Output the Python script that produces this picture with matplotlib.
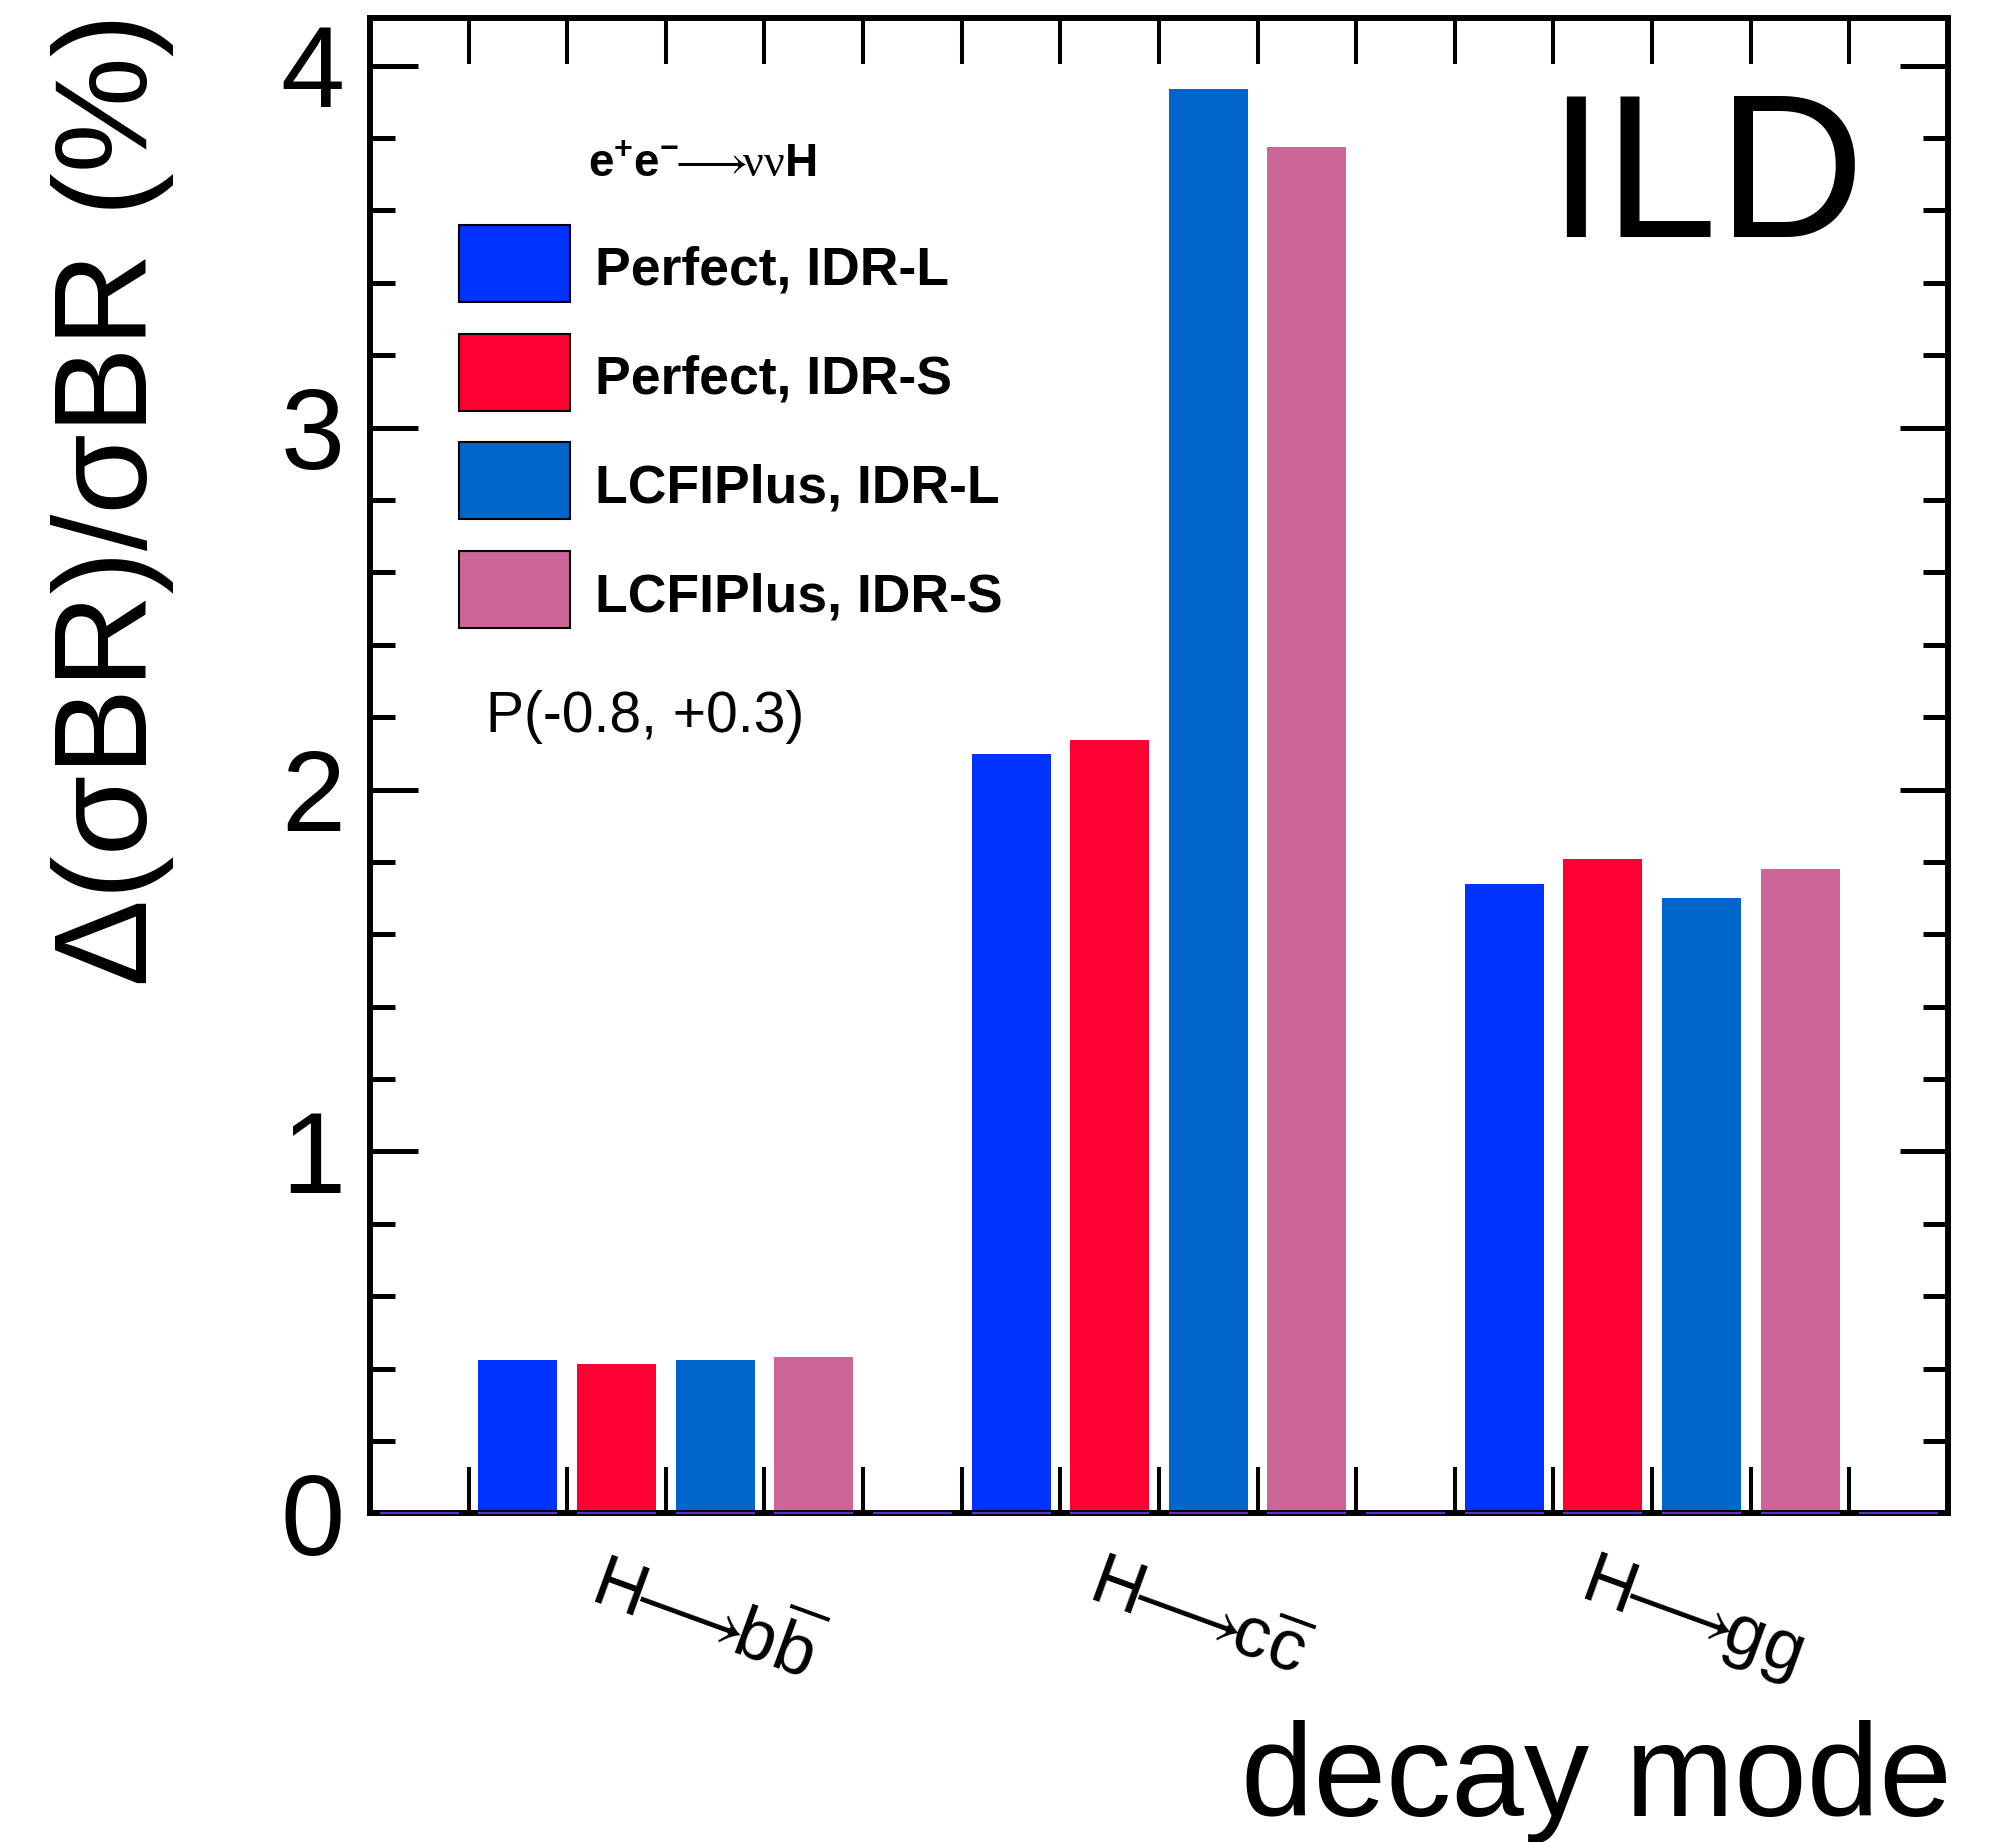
import numpy as np
import matplotlib.pyplot as plt
from matplotlib.patches import Rectangle
from matplotlib.ticker import MultipleLocator, NullFormatter

plt.rcParams['font.family'] = ['Liberation Sans', 'DejaVu Sans']
plt.rcParams['mathtext.fontset'] = 'custom'
plt.rcParams['mathtext.rm'] = 'Liberation Sans'
plt.rcParams['mathtext.bf'] = 'Liberation Sans:bold'
plt.rcParams['mathtext.it'] = 'Liberation Serif'

# decay modes (x categories)
modes = [r'$\mathrm{H}\!\!\longrightarrow\!\!\mathrm{b}\overline{\mathrm{b}}$',
         r'$\mathrm{H}\!\!\longrightarrow\!\!\mathrm{c}\overline{\mathrm{c}}$',
         r'$\mathrm{H}\!\!\longrightarrow\!\!\mathrm{gg}$']

# series
series = ['Perfect, IDR-L', 'Perfect, IDR-S', 'LCFIPlus, IDR-L', 'LCFIPlus, IDR-S']
colors = ['#0033ff', '#ff0033', '#0066cc', '#cc6699']

perfect_L = [0.423, 2.099, 1.739]
perfect_S = [0.412, 2.138, 1.809]
lcfi_L = [0.423, 3.935, 1.699]
lcfi_S = [0.432, 3.775, 1.779]
values = [perfect_L, perfect_S, lcfi_L, lcfi_S]

nbins = 16          # 4 bars per mode + 1 empty bin in between
group = 5

fig = plt.figure(figsize=(20.03, 18.42), dpi=100)
ax = fig.add_axes([0.18472, 0.17844, 0.78782, 0.81178])

for s, vals in enumerate(values):
    bins = 1 + group*np.arange(len(modes)) + s
    ax.bar(bins + 0.1, vals, width=0.8, align='edge', color=colors[s], linewidth=0, zorder=2)

# empty bins drawn as a thin line at zero (like the ROOT bar option)
edges = np.arange(nbins)
ax.hlines(np.zeros(nbins), edges + 0.1, edges + 0.9, color='#5a32c8', linewidth=1.6,
          zorder=2.6, clip_on=False)

ax.set_xlim(0, nbins)
ax.set_ylim(0, 1.05*max(max(v) for v in values))

for sp in ax.spines.values():
    sp.set_linewidth(4.3)

ax.set_xticks(np.arange(nbins + 1))
ax.xaxis.set_major_formatter(NullFormatter())
ax.tick_params(axis='x', which='major', direction='in', top=True, bottom=True,
               length=33, width=2.9)

ax.yaxis.set_major_locator(MultipleLocator(1))
ax.yaxis.set_minor_locator(MultipleLocator(0.2))
ax.tick_params(axis='y', which='both', direction='in', left=True, right=True)
ax.tick_params(axis='y', which='major', length=34.6, width=3.6, labelsize=83, pad=18)
ax.tick_params(axis='y', which='minor', length=18, width=3.6)

# rotated category labels
xt = ax.get_xaxis_transform()
for g, lab in enumerate(modes):
    xc = 1 + group*g + 2
    ax.text(xc + 0.4, -0.0707, lab, transform=xt, rotation=-20, rotation_mode='anchor',
            ha='center', va='center', fontsize=52)

ax.set_ylabel('Δ(σBR)/σBR (%)', loc='top', fontsize=94)
ax.yaxis.set_label_coords(-0.1242, 1.0033)
ax.set_xlabel('decay mode', loc='right', fontsize=94, va='baseline')
ax.xaxis.set_label_coords(1.0025, -0.2026)

# legend
ax.text(0.1381, 0.8939, r'$\mathbf{e^{+}e^{-}}\!\!\longrightarrow\!\!\nu\nu\mathbf{H}$',
        transform=ax.transAxes, fontsize=33, va='baseline', ha='left')
row_top = 0.8616
pitch = 108.7/1495.3
box_h = 77/1495.3
for i, (name, col) in enumerate(zip(series, colors)):
    top = row_top - i*pitch
    ax.add_patch(Rectangle((0.0564, top - box_h), 0.0703, box_h, transform=ax.transAxes,
                           facecolor=col, edgecolor='black', linewidth=1.5, zorder=5))
    ax.text(0.1426, top - 60/1495.3, name, transform=ax.transAxes, fontsize=38.5,
            fontweight='bold', va='baseline', ha='left')

ax.text(0.0735, (1513.3 - 732)/1495.3, 'P(-0.8, +0.3)', transform=ax.transAxes,
        fontsize=41, va='baseline', ha='left')

ax.text(0.9474, 0.8537, 'ILD', transform=ax.transAxes, fontsize=147,
        va='baseline', ha='right')

fig.savefig('out.png', dpi=100)
